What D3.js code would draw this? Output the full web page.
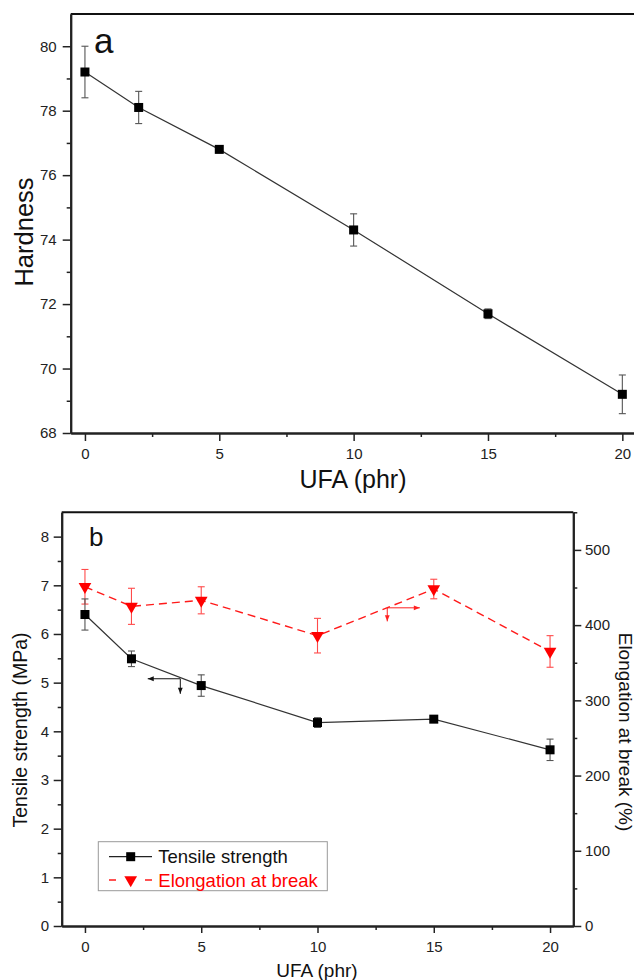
<!DOCTYPE html>
<html>
<head>
<meta charset="utf-8">
<script src="https://cdn.jsdelivr.net/npm/d3@7"></script>
<style>
  html, body { margin: 0; padding: 0; background: #fff; }
  svg { display: block; font-family: "Liberation Sans", Arial, sans-serif; }
</style>
</head>
<body>
<svg id="chart" width="634" height="980"></svg>
<script>
// ---------- data ----------
const ufa = [0, 2, 5, 10, 15, 20];
const hardness = [79.2, 78.1, 76.8, 74.3, 71.7, 69.2];
const hardnessErr = [0.8, 0.5, 0.1, 0.5, 0.15, 0.6];
const tensile = [6.40, 5.49, 4.94, 4.18, 4.25, 3.62];
const tensileErr = [0.32, 0.16, 0.22, 0.1, 0.05, 0.22];
const elongation = [451, 425, 433, 386, 448, 365];
const elongationErr = [23, 24, 18, 23, 13, 21];
const xTicks = [0, 5, 10, 15, 20];
const xMinor = [2.5, 7.5, 12.5, 17.5];
const hardTicks = [68, 70, 72, 74, 76, 78, 80];
const hardMinor = [69, 71, 73, 75, 77, 79];
const tsTicks = [0, 1, 2, 3, 4, 5, 6, 7, 8];
const tsMinor = [0.5, 1.5, 2.5, 3.5, 4.5, 5.5, 6.5, 7.5];
const elTicks = [0, 100, 200, 300, 400, 500];
const elMinor = [50, 150, 250, 350, 450, 550];
// arrow annotations (data coordinates): [x1, x2] at y, then drop to y2
const tsArrow = { xFrom: 4.1, xTo: 2.7, y: 5.08, yDown: 4.77 };
const elArrow = { xFrom: 13.0, xTo: 14.4, y: 423, yDown: 405 };

const svg = d3.select("#chart");
const FONT = "'Liberation Sans', Arial, sans-serif";

// arrow markers
const defs = svg.append("defs");
function marker(id, color) {
  defs.append("marker").attr("id", id).attr("viewBox", "0 0 10 10")
    .attr("refX", 10).attr("refY", 5).attr("markerWidth", 7).attr("markerHeight", 6)
    .attr("markerUnits", "userSpaceOnUse").attr("orient", "auto")
    .append("path").attr("d", "M0,1 L10,5 L0,9 Z").attr("fill", color);
}
marker("arrBlack", "#111");
marker("arrRed", "#ff2020");

function styleAxis(g, w) {
  g.select(".domain").attr("stroke", "#222").attr("stroke-width", w || 2);
  g.selectAll(".tick line").attr("stroke", "#222").attr("stroke-width", 1.5);
  g.selectAll(".tick text").attr("fill", "#222").style("font-size", "15px").style("font-family", FONT);
}

// ================= Panel a =================
const xA = d3.scaleLinear().domain([-0.53, 21]).range([70.7, 649.2]);
const yA = d3.scaleLinear().domain([68, 81]).range([433, 14]);
const gA = svg.append("g");

// frame top
gA.append("line").attr("x1", 70.7).attr("x2", 640).attr("y1", 14).attr("y2", 14)
  .attr("stroke", "#111").attr("stroke-width", 2);

const axA_x = gA.append("g").attr("transform", "translate(0,433)")
  .call(d3.axisBottom(xA).tickValues(xTicks).tickSize(8).tickPadding(7).tickSizeOuter(0));
styleAxis(axA_x);
const axA_xm = gA.append("g").attr("transform", "translate(0,433)")
  .call(d3.axisBottom(xA).tickValues(xMinor).tickSize(4).tickFormat("").tickSizeOuter(0));
styleAxis(axA_xm);

const axA_y = gA.append("g").attr("transform", "translate(70.7,0)")
  .call(d3.axisLeft(yA).tickValues(hardTicks).tickSize(8).tickPadding(6).tickSizeOuter(0));
styleAxis(axA_y);
const axA_ym = gA.append("g").attr("transform", "translate(70.7,0)")
  .call(d3.axisLeft(yA).tickValues(hardMinor).tickSize(4).tickFormat("").tickSizeOuter(0));
styleAxis(axA_ym);

// line
gA.append("path").datum(ufa.map((u, i) => [u, hardness[i]]))
  .attr("d", d3.line().x(d => xA(d[0])).y(d => yA(d[1])))
  .attr("fill", "none").attr("stroke", "#333").attr("stroke-width", 1.2);

// error bars
ufa.forEach((u, i) => {
  const x = xA(u), y1 = yA(hardness[i] - hardnessErr[i]), y2 = yA(hardness[i] + hardnessErr[i]);
  const eg = gA.append("g").attr("stroke", "#555").attr("stroke-width", 1.1);
  eg.append("line").attr("x1", x).attr("x2", x).attr("y1", y1).attr("y2", y2);
  eg.append("line").attr("x1", x - 3.5).attr("x2", x + 3.5).attr("y1", y1).attr("y2", y1);
  eg.append("line").attr("x1", x - 3.5).attr("x2", x + 3.5).attr("y1", y2).attr("y2", y2);
});
// markers
gA.selectAll("rect.m").data(ufa).enter().append("rect")
  .attr("x", (d) => xA(d) - 4.5).attr("y", (d, i) => yA(hardness[i]) - 4.5)
  .attr("width", 9).attr("height", 9).attr("fill", "#000");

gA.append("text").attr("x", 94).attr("y", 53).text("a")
  .style("font-size", "35px").style("font-family", FONT).attr("fill", "#111");
gA.append("text").attr("x", 353).attr("y", 488).attr("text-anchor", "middle").text("UFA (phr)")
  .style("font-size", "25px").style("font-family", FONT).attr("fill", "#111");
gA.append("text").attr("transform", "translate(33,232) rotate(-90)").attr("text-anchor", "middle")
  .text("Hardness").style("font-size", "25.5px").style("font-family", FONT).attr("fill", "#111");

// ================= Panel b =================
const xB = d3.scaleLinear().domain([-1, 21]).range([61.7, 573.3]);
const yB = d3.scaleLinear().domain([0, 8.5]).range([926, 512.3]);
const yR = d3.scaleLinear().domain([0, 550]).range([926, 512.3]);
const gB = svg.append("g");

gB.append("line").attr("x1", 61.7).attr("x2", 573.3).attr("y1", 512.3).attr("y2", 512.3)
  .attr("stroke", "#111").attr("stroke-width", 2);

const axB_x = gB.append("g").attr("transform", "translate(0,926)")
  .call(d3.axisBottom(xB).tickValues(xTicks).tickSize(7).tickPadding(8.5).tickSizeOuter(0));
styleAxis(axB_x);
const axB_xm = gB.append("g").attr("transform", "translate(0,926)")
  .call(d3.axisBottom(xB).tickValues(xMinor).tickSize(4).tickFormat("").tickSizeOuter(0));
styleAxis(axB_xm);

const axB_y = gB.append("g").attr("transform", "translate(61.7,0)")
  .call(d3.axisLeft(yB).tickValues(tsTicks).tickSize(8).tickPadding(4.7).tickSizeOuter(0));
styleAxis(axB_y);
const axB_ym = gB.append("g").attr("transform", "translate(61.7,0)")
  .call(d3.axisLeft(yB).tickValues(tsMinor).tickSize(4).tickFormat("").tickSizeOuter(0));
styleAxis(axB_ym);

const axB_r = gB.append("g").attr("transform", "translate(573.3,0)")
  .call(d3.axisRight(yR).tickValues(elTicks).tickSize(8).tickPadding(3.7).tickSizeOuter(0));
styleAxis(axB_r);
const axB_rm = gB.append("g").attr("transform", "translate(573.3,0)")
  .call(d3.axisRight(yR).tickValues(elMinor).tickSize(4).tickFormat("").tickSizeOuter(0));
styleAxis(axB_rm);

// elongation (red dashed)
gB.append("path").datum(ufa.map((u, i) => [u, elongation[i]]))
  .attr("d", d3.line().x(d => xB(d[0])).y(d => yR(d[1])))
  .attr("fill", "none").attr("stroke", "#ff1a1a").attr("stroke-width", 1.4)
  .attr("stroke-dasharray", "8,5");
ufa.forEach((u, i) => {
  const x = xB(u), y1 = yR(elongation[i] - elongationErr[i]), y2 = yR(elongation[i] + elongationErr[i]);
  const eg = gB.append("g").attr("stroke", "#ff4a4a").attr("stroke-width", 1.1);
  eg.append("line").attr("x1", x).attr("x2", x).attr("y1", y1).attr("y2", y2);
  eg.append("line").attr("x1", x - 3.5).attr("x2", x + 3.5).attr("y1", y1).attr("y2", y1);
  eg.append("line").attr("x1", x - 3.5).attr("x2", x + 3.5).attr("y1", y2).attr("y2", y2);
});
const tri = d3.symbol().type(d3.symbolTriangle).size(70);
gB.selectAll("path.tri").data(ufa).enter().append("path")
  .attr("d", tri)
  .attr("transform", (d, i) => `translate(${xB(d)},${yR(elongation[i])}) rotate(180)`)
  .attr("fill", "#ff0000");

// tensile (black solid)
gB.append("path").datum(ufa.map((u, i) => [u, tensile[i]]))
  .attr("d", d3.line().x(d => xB(d[0])).y(d => yB(d[1])))
  .attr("fill", "none").attr("stroke", "#333").attr("stroke-width", 1.2);
ufa.forEach((u, i) => {
  const x = xB(u), y1 = yB(tensile[i] - tensileErr[i]), y2 = yB(tensile[i] + tensileErr[i]);
  const eg = gB.append("g").attr("stroke", "#555").attr("stroke-width", 1.1);
  eg.append("line").attr("x1", x).attr("x2", x).attr("y1", y1).attr("y2", y2);
  eg.append("line").attr("x1", x - 3.5).attr("x2", x + 3.5).attr("y1", y1).attr("y2", y1);
  eg.append("line").attr("x1", x - 3.5).attr("x2", x + 3.5).attr("y1", y2).attr("y2", y2);
});
gB.selectAll("rect.m").data(ufa).enter().append("rect")
  .attr("x", (d) => xB(d) - 4.5).attr("y", (d, i) => yB(tensile[i]) - 4.5)
  .attr("width", 9).attr("height", 9).attr("fill", "#000");

// arrows
gB.append("line").attr("x1", xB(tsArrow.xFrom)).attr("x2", xB(tsArrow.xTo))
  .attr("y1", yB(tsArrow.y)).attr("y2", yB(tsArrow.y))
  .attr("stroke", "#111").attr("stroke-width", 1).attr("marker-end", "url(#arrBlack)");
gB.append("line").attr("x1", xB(tsArrow.xFrom)).attr("x2", xB(tsArrow.xFrom))
  .attr("y1", yB(tsArrow.y)).attr("y2", yB(tsArrow.yDown))
  .attr("stroke", "#111").attr("stroke-width", 1).attr("marker-end", "url(#arrBlack)");
gB.append("line").attr("x1", xB(elArrow.xFrom)).attr("x2", xB(elArrow.xTo))
  .attr("y1", yR(elArrow.y)).attr("y2", yR(elArrow.y))
  .attr("stroke", "#ff2020").attr("stroke-width", 1).attr("marker-end", "url(#arrRed)");
gB.append("line").attr("x1", xB(elArrow.xFrom)).attr("x2", xB(elArrow.xFrom))
  .attr("y1", yR(elArrow.y)).attr("y2", yR(elArrow.yDown))
  .attr("stroke", "#ff2020").attr("stroke-width", 1).attr("marker-end", "url(#arrRed)");

// legend
const lg = gB.append("g");
lg.append("rect").attr("x", 98.3).attr("y", 841.7).attr("width", 229).attr("height", 49)
  .attr("fill", "#fff").attr("stroke", "#999").attr("stroke-width", 1);
lg.append("line").attr("x1", 109).attr("x2", 152).attr("y1", 856.7).attr("y2", 856.7)
  .attr("stroke", "#222").attr("stroke-width", 1.3);
lg.append("rect").attr("x", 126.2).attr("y", 852.2).attr("width", 9).attr("height", 9).attr("fill", "#000");
lg.append("text").attr("x", 158.3).attr("y", 863).text("Tensile strength")
  .style("font-size", "18.5px").style("font-family", FONT).attr("fill", "#111");
lg.append("line").attr("x1", 109).attr("x2", 152).attr("y1", 880).attr("y2", 880)
  .attr("stroke", "#ff1a1a").attr("stroke-width", 1.4).attr("stroke-dasharray", "7,11.5,6,11.5,7");
lg.append("path").attr("d", tri).attr("transform", "translate(130.7,880) rotate(180)").attr("fill", "#ff0000");
lg.append("text").attr("x", 158.3).attr("y", 886.5).text("Elongation at break")
  .style("font-size", "18.5px").style("font-family", FONT).attr("fill", "#ff0000");

// labels
gB.append("text").attr("x", 89).attr("y", 546).text("b")
  .style("font-size", "26px").style("font-family", FONT).attr("fill", "#111");
gB.append("text").attr("x", 317).attr("y", 977).attr("text-anchor", "middle").text("UFA (phr)")
  .style("font-size", "19px").style("font-family", FONT).attr("fill", "#111");
gB.append("text").attr("transform", "translate(26.5,730) rotate(-90)").attr("text-anchor", "middle")
  .text("Tensile strength (MPa)").style("font-size", "19.5px").style("font-family", FONT).attr("fill", "#111");
gB.append("text").attr("transform", "translate(618.5,732) rotate(90)").attr("text-anchor", "middle")
  .text("Elongation at break (%)").style("font-size", "19px").style("font-family", FONT).attr("fill", "#111");
</script>
</body>
</html>
